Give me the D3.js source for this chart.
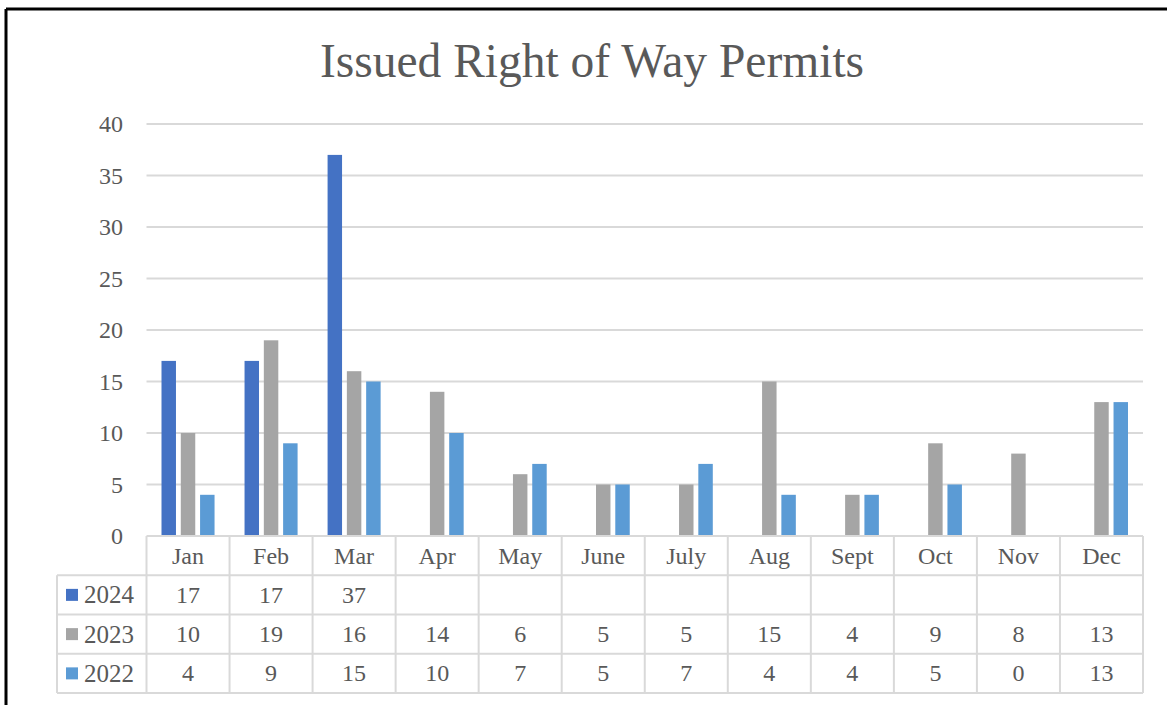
<!DOCTYPE html>
<html>
<head>
<meta charset="utf-8">
<script src="https://cdn.jsdelivr.net/npm/d3@7"></script>
<style>
  body { margin: 0; background: #fff; }
  svg { display: block; }
  text { font-family: "Liberation Serif", "Times New Roman", serif; fill: #595959; }
</style>
</head>
<body>
<div id="chart"></div>
<script>
// data
var months = ["Jan", "Feb", "Mar", "Apr", "May", "June", "July", "Aug", "Sept", "Oct", "Nov", "Dec"];
var series = ["2024", "2023", "2022"];
var v2024 = [17, 17, 37, null, null, null, null, null, null, null, null, null];
var v2023 = [10, 19, 16, 14, 6, 5, 5, 15, 4, 9, 8, 13];
var v2022 = [4, 9, 15, 10, 7, 5, 7, 4, 4, 5, 0, 13];
var yTicks = [0, 5, 10, 15, 20, 25, 30, 35, 40];
var colors = ["#4472C4", "#A5A5A5", "#5B9BD5"];

var values = [v2024, v2023, v2022];

var W = 1167, H = 705;
var svg = d3.select("#chart").append("svg").attr("width", W).attr("height", H);

// outer frame (only top & left visible in the crop)
svg.append("line").attr("x1", 6).attr("x2", W).attr("y1", 9).attr("y2", 9)
  .attr("stroke", "#000").attr("stroke-width", 3);
svg.append("line").attr("x1", 6).attr("x2", 6).attr("y1", 9).attr("y2", H)
  .attr("stroke", "#000").attr("stroke-width", 3);

// title
svg.append("text").attr("x", 592).attr("y", 77).attr("text-anchor", "middle")
  .style("font-size", "47.5px").text("Issued Right of Way Permits");

var x0 = d3.scaleBand().domain(months).range([146.5, 1143]);
var x1 = d3.scaleBand().domain(series).range([15, x0.bandwidth() - 15]).paddingInner(0.25);
var y = d3.scaleLinear().domain([0, 40]).range([536, 124]);

// gridlines
svg.append("g").selectAll("line").data(yTicks.slice(1)).join("line")
  .attr("x1", 146.5).attr("x2", 1143)
  .attr("y1", function(d){ return y(d); }).attr("y2", function(d){ return y(d); })
  .attr("stroke", "#d9d9d9").attr("stroke-width", 2);

// y axis labels
var yAxis = d3.axisLeft(y).tickValues(yTicks).tickSize(0).tickPadding(0);
var ga = svg.append("g").attr("transform", "translate(123,0)").call(yAxis);
ga.select(".domain").remove();
ga.selectAll("text").attr("fill", "#595959")
  .style("font-family", "'Liberation Serif', serif").style("font-size", "24px");

// bars
series.forEach(function(s, si){
  svg.append("g").selectAll("rect")
    .data(months.map(function(m, i){ return {m: m, v: values[si][i]}; }).filter(function(d){ return d.v; }))
    .join("rect")
    .attr("x", function(d){ return x0(d.m) + x1(s); })
    .attr("width", x1.bandwidth())
    .attr("y", function(d){ return y(d.v); })
    .attr("height", function(d){ return y(0) - y(d.v); })
    .attr("fill", colors[si]);
});

// data table
var rowTop = 536, rowH = 39.25, leftX = 57;
var tg = svg.append("g");
var lineCol = "#d9d9d9";

// header row
months.forEach(function(m){
  tg.append("text").attr("x", x0(m) + x0.bandwidth() / 2).attr("y", rowTop + rowH / 2)
    .attr("text-anchor", "middle").attr("dominant-baseline", "central")
    .style("font-size", "24px").text(m);
});

series.forEach(function(s, si){
  var cy = rowTop + rowH * (si + 1) + rowH / 2;
  tg.append("rect").attr("x", 66).attr("y", cy - 6).attr("width", 12).attr("height", 12)
    .attr("fill", colors[si]);
  tg.append("text").attr("x", 84).attr("y", cy).attr("dominant-baseline", "central")
    .style("font-size", "25px").text(s);
  months.forEach(function(m, i){
    var v = values[si][i];
    if (v === null) return;
    tg.append("text").attr("x", x0(m) + x0.bandwidth() / 2).attr("y", cy)
      .attr("text-anchor", "middle").attr("dominant-baseline", "central")
      .style("font-size", "24px").text(v);
  });
});

// table lines
var hl = [0, 1, 2, 3, 4];
tg.selectAll("line.h").data(hl).join("line").attr("class", "h")
  .attr("x1", function(d){ return d === 0 ? 146.5 : leftX; }).attr("x2", 1143)
  .attr("y1", function(d){ return rowTop + rowH * d; }).attr("y2", function(d){ return rowTop + rowH * d; })
  .attr("stroke", lineCol).attr("stroke-width", 2);
var vx = months.map(function(m){ return x0(m); }).concat([1143]);
tg.selectAll("line.v").data(vx).join("line").attr("class", "v")
  .attr("x1", function(d){ return d; }).attr("x2", function(d){ return d; })
  .attr("y1", rowTop).attr("y2", rowTop + rowH * 4)
  .attr("stroke", lineCol).attr("stroke-width", 2);
tg.append("line").attr("x1", leftX).attr("x2", leftX)
  .attr("y1", rowTop + rowH).attr("y2", rowTop + rowH * 4)
  .attr("stroke", lineCol).attr("stroke-width", 2);
</script>
</body>
</html>
